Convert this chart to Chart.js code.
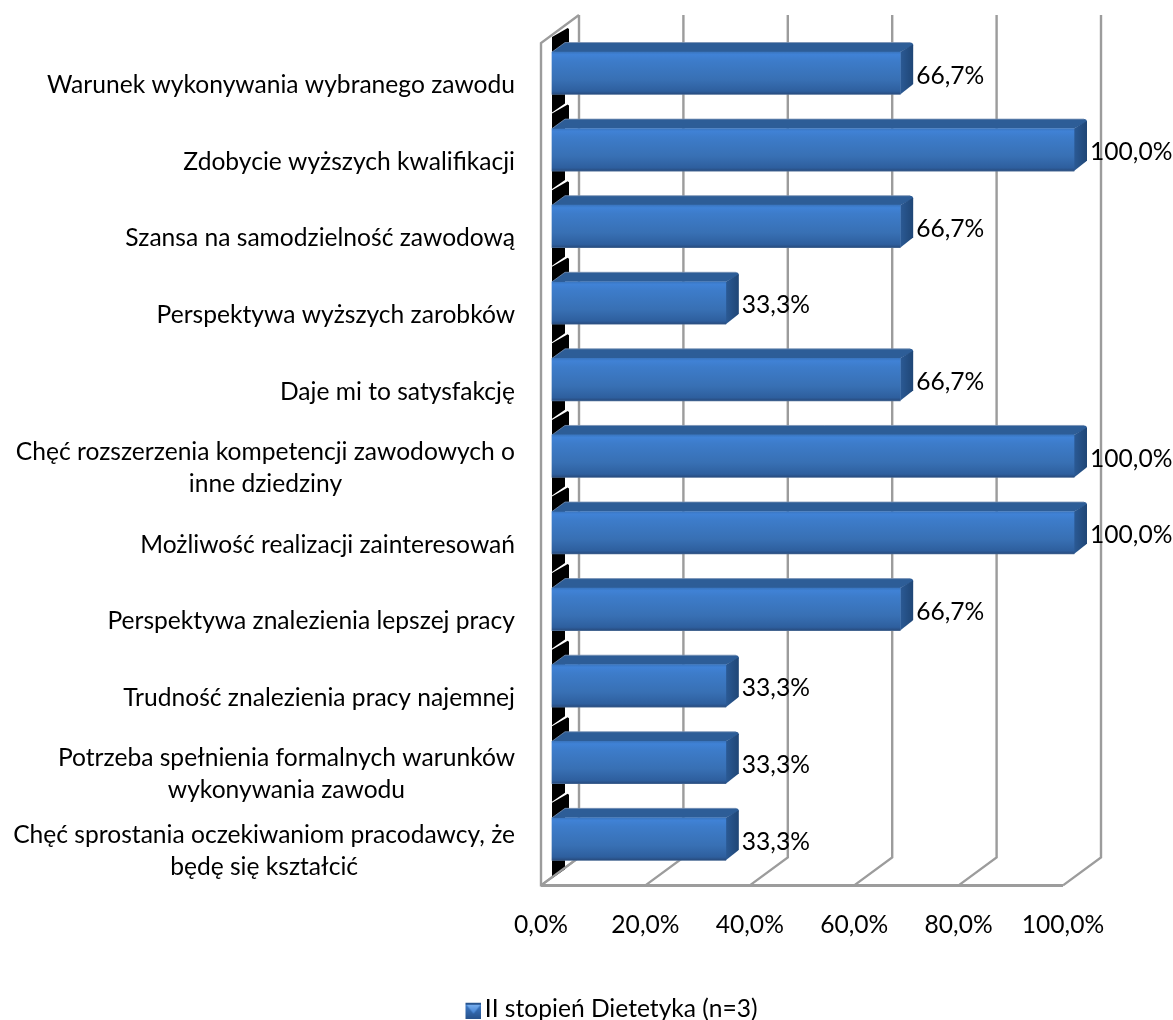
<!DOCTYPE html>
<html><head><meta charset="utf-8">
<style>html,body{margin:0;padding:0;background:#fff}canvas{display:block}</style>
<script src="https://cdn.jsdelivr.net/npm/chart.js@4"></script>
</head><body><canvas id="c" width="1173" height="1020"></canvas>
<script>
const categories = [
  ["Warunek wykonywania wybranego zawodu"],
  ["Zdobycie wyższych kwalifikacji"],
  ["Szansa na samodzielność zawodową"],
  ["Perspektywa wyższych zarobków"],
  ["Daje mi to satysfakcję"],
  ["Chęć rozszerzenia kompetencji zawodowych o","inne dziedziny"],
  ["Możliwość realizacji zainteresowań"],
  ["Perspektywa znalezienia lepszej pracy"],
  ["Trudność znalezienia pracy najemnej"],
  ["Potrzeba spełnienia formalnych warunków","wykonywania zawodu"],
  ["Chęć sprostania oczekiwaniom pracodawcy, że","będę się kształcić"]
];
const values = [66.7,100,66.7,33.3,66.7,100,100,66.7,33.3,33.3,33.3];
const seriesName = "II stopień Dietetyka (n=3)";

const FONT = "Lato";
const SIZE = 24.6;
const WALL = "#9c9c9c";
const BACK = {dx:38, dy:-28};
const SHIFT = {dx:11, dy:-8};
const DEPTH = {dx:13, dy:-9.5};
const BAR_H = 42.5;
const fmt = v => v.toFixed(1).replace(".", ",") + "%";

function line(ctx, pts){ctx.beginPath();pts.forEach((p,i)=>i?ctx.lineTo(p[0],p[1]):ctx.moveTo(p[0],p[1]));ctx.stroke();}
function poly(ctx, pts){ctx.beginPath();pts.forEach((p,i)=>i?ctx.lineTo(p[0],p[1]):ctx.moveTo(p[0],p[1]));ctx.closePath();ctx.fill();}

const marker = document.createElement("canvas");
marker.width = 24; marker.height = 20;
(function(){
  const m = marker.getContext("2d");
  m.translate(8,0);
  const g = m.createLinearGradient(0,4,0,20);
  g.addColorStop(0,"#3f7fd0"); g.addColorStop(1,"#27528c");
  m.fillStyle = g; m.fillRect(0,4,16,16);
  m.fillStyle = "#28558f"; m.fillRect(0,4,16,2);
  const t = m.createLinearGradient(0,5,0,15);
  t.addColorStop(0,"#7fb4f2"); t.addColorStop(1,"#3f7fd0");
  m.fillStyle = t; m.beginPath(); m.moveTo(1,6); m.lineTo(15,6); m.lineTo(8,15); m.closePath(); m.fill();
})();

const scene = {
  id:"scene",
  beforeDatasetsDraw(chart){
    const {ctx, chartArea:a, scales:{x,y}} = chart;
    ctx.save();
    ctx.strokeStyle = WALL; ctx.lineWidth = 2.4;
    x.ticks.forEach(t=>{
      const px = x.getPixelForValue(t.value);
      line(ctx,[[px,a.bottom],[px+BACK.dx,a.bottom+BACK.dy],[px+BACK.dx,a.top+BACK.dy]]);
    });
    const x0 = x.getPixelForValue(0), x1 = x.getPixelForValue(100);
    line(ctx,[[x0+BACK.dx,a.top+BACK.dy],[x0,a.top],[x0,a.bottom],[x1,a.bottom]]);
    ctx.lineWidth = 3;
    line(ctx,[[x0,a.bottom],[x1,a.bottom]]);
    ctx.lineWidth = 2.4;

    const meta = chart.getDatasetMeta(0);
    const L = x0 + SHIFT.dx;
    ctx.fillStyle = "#000";
    meta.data.forEach(b=>{
      const T = b.y - BAR_H/2 + SHIFT.dy, B = T + BAR_H;
      poly(ctx,[[L,T-15],[L+14,T-23],[L+15.5,T-24],[L+17,T-23],[L+17,T-9],[L+13,T-9],[L+13,B+9],[L,B+18]]);
    });
    ctx.strokeStyle = WALL;
    line(ctx,[[x0,a.bottom],[x0+BACK.dx,a.bottom+BACK.dy]]);

    meta.data.forEach(b=>{
      const T = b.y - BAR_H/2 + SHIFT.dy, B = T + BAR_H, R = b.x + SHIFT.dx;
      const d = DEPTH;
      ctx.fillStyle = "#2d5d97";
      ctx.beginPath();
      ctx.moveTo(L,T);ctx.lineTo(L+d.dx,T+d.dy);ctx.lineTo(R+d.dx-3,T+d.dy);
      ctx.quadraticCurveTo(R+d.dx,T+d.dy,R+d.dx,T+d.dy+3);
      ctx.lineTo(R,T);ctx.closePath();ctx.fill();
      const g = ctx.createLinearGradient(R,0,R+d.dx,0);
      g.addColorStop(0,"#2b5a95"); g.addColorStop(1,"#1f4676");
      ctx.fillStyle = g;
      poly(ctx,[[R,T],[R+d.dx,T+d.dy+2],[R+d.dx,B+d.dy-1],[R+d.dx-1,B+d.dy],[R,B]]);
      ctx.strokeStyle = "rgba(120,145,180,0.8)"; ctx.lineWidth = 1;
      line(ctx,[[L,T],[L+d.dx,T+d.dy],[R+d.dx-3,T+d.dy]]);
    });
    ctx.restore();
    ctx.save();
    ctx.translate(SHIFT.dx, SHIFT.dy);
  },
  afterDatasetsDraw(chart){
    const {ctx, scales:{x,y}} = chart;
    ctx.restore();
    ctx.save();
    ctx.fillStyle = "#000";
    ctx.font = SIZE + "px " + FONT;
    ctx.textBaseline = "middle";
    ctx.textAlign = "left";
    chart.getDatasetMeta(0).data.forEach((b,i)=>{
      ctx.fillText(fmt(values[i]), b.x + SHIFT.dx + DEPTH.dx + 3, b.y + SHIFT.dy + 2.5);
    });
    ctx.textAlign = "center";
    categories.forEach((lines,i)=>{
      const w = Math.max(...lines.map(s=>ctx.measureText(s).width));
      const cx = 515 - w/2, cy = y.getPixelForValue(i) + 4;
      const lh = 32;
      lines.forEach((s,k)=>ctx.fillText(s, cx, cy + (k-(lines.length-1)/2)*lh));
    });
    ctx.restore();
  }
};

new Chart(document.getElementById("c"),{
  type:"bar",
  data:{labels:categories,datasets:[{
    label:seriesName,data:values,clip:false,barThickness:BAR_H,borderWidth:0,
    backgroundColor(c){
      const ch=c.chart, ys=ch.scales.y;
      if(!ys||c.dataIndex===undefined) return "#3b78c4";
      const yc=ys.getPixelForValue(c.dataIndex), t=yc-BAR_H/2;
      const g=ch.ctx.createLinearGradient(0,t,0,t+BAR_H);
      g.addColorStop(0,"#3a76c0");
      g.addColorStop(0.06,"#4082d6");
      g.addColorStop(0.2,"#3d7cca");
      g.addColorStop(0.65,"#3870b4");
      g.addColorStop(0.92,"#2e5f9e");
      g.addColorStop(0.98,"#294f84");
      g.addColorStop(1,"#4a6a94");
      return g;
    }
  }]},
  options:{
    indexAxis:"y",responsive:false,animation:false,
    layout:{padding:{left:51,right:0,top:43,bottom:-11}},
    scales:{
      x:{type:"linear",min:0,max:100,
        grid:{display:false,drawTicks:false},border:{display:false},
        ticks:{stepSize:20,autoSkip:false,maxRotation:0,padding:25,color:"#000",font:{family:FONT,size:SIZE},callback:v=>fmt(v)},
        afterFit(s){s.height=111;}
      },
      y:{type:"category",
        grid:{display:false,drawTicks:false},border:{display:false},
        ticks:{display:false},
        afterFit(s){s.width=490;}
      },
      pad:{type:"linear",position:"right",display:true,
        grid:{display:false,drawTicks:false},border:{display:false},
        ticks:{display:false},title:{display:false},
        afterFit(s){s.width=110;}
      }
    },
    plugins:{
      tooltip:{enabled:false},
      legend:{position:"bottom",
        labels:{usePointStyle:true,boxWidth:6,boxHeight:16,padding:0,color:"#000",
          font:{family:FONT,size:SIZE},
          generateLabels:()=>[{text:seriesName,pointStyle:marker,fillStyle:"#3b78c4",strokeStyle:"#3b78c4",lineWidth:0,datasetIndex:0}]
        }
      }
    }
  },
  plugins:[scene]
});
</script></body></html>
